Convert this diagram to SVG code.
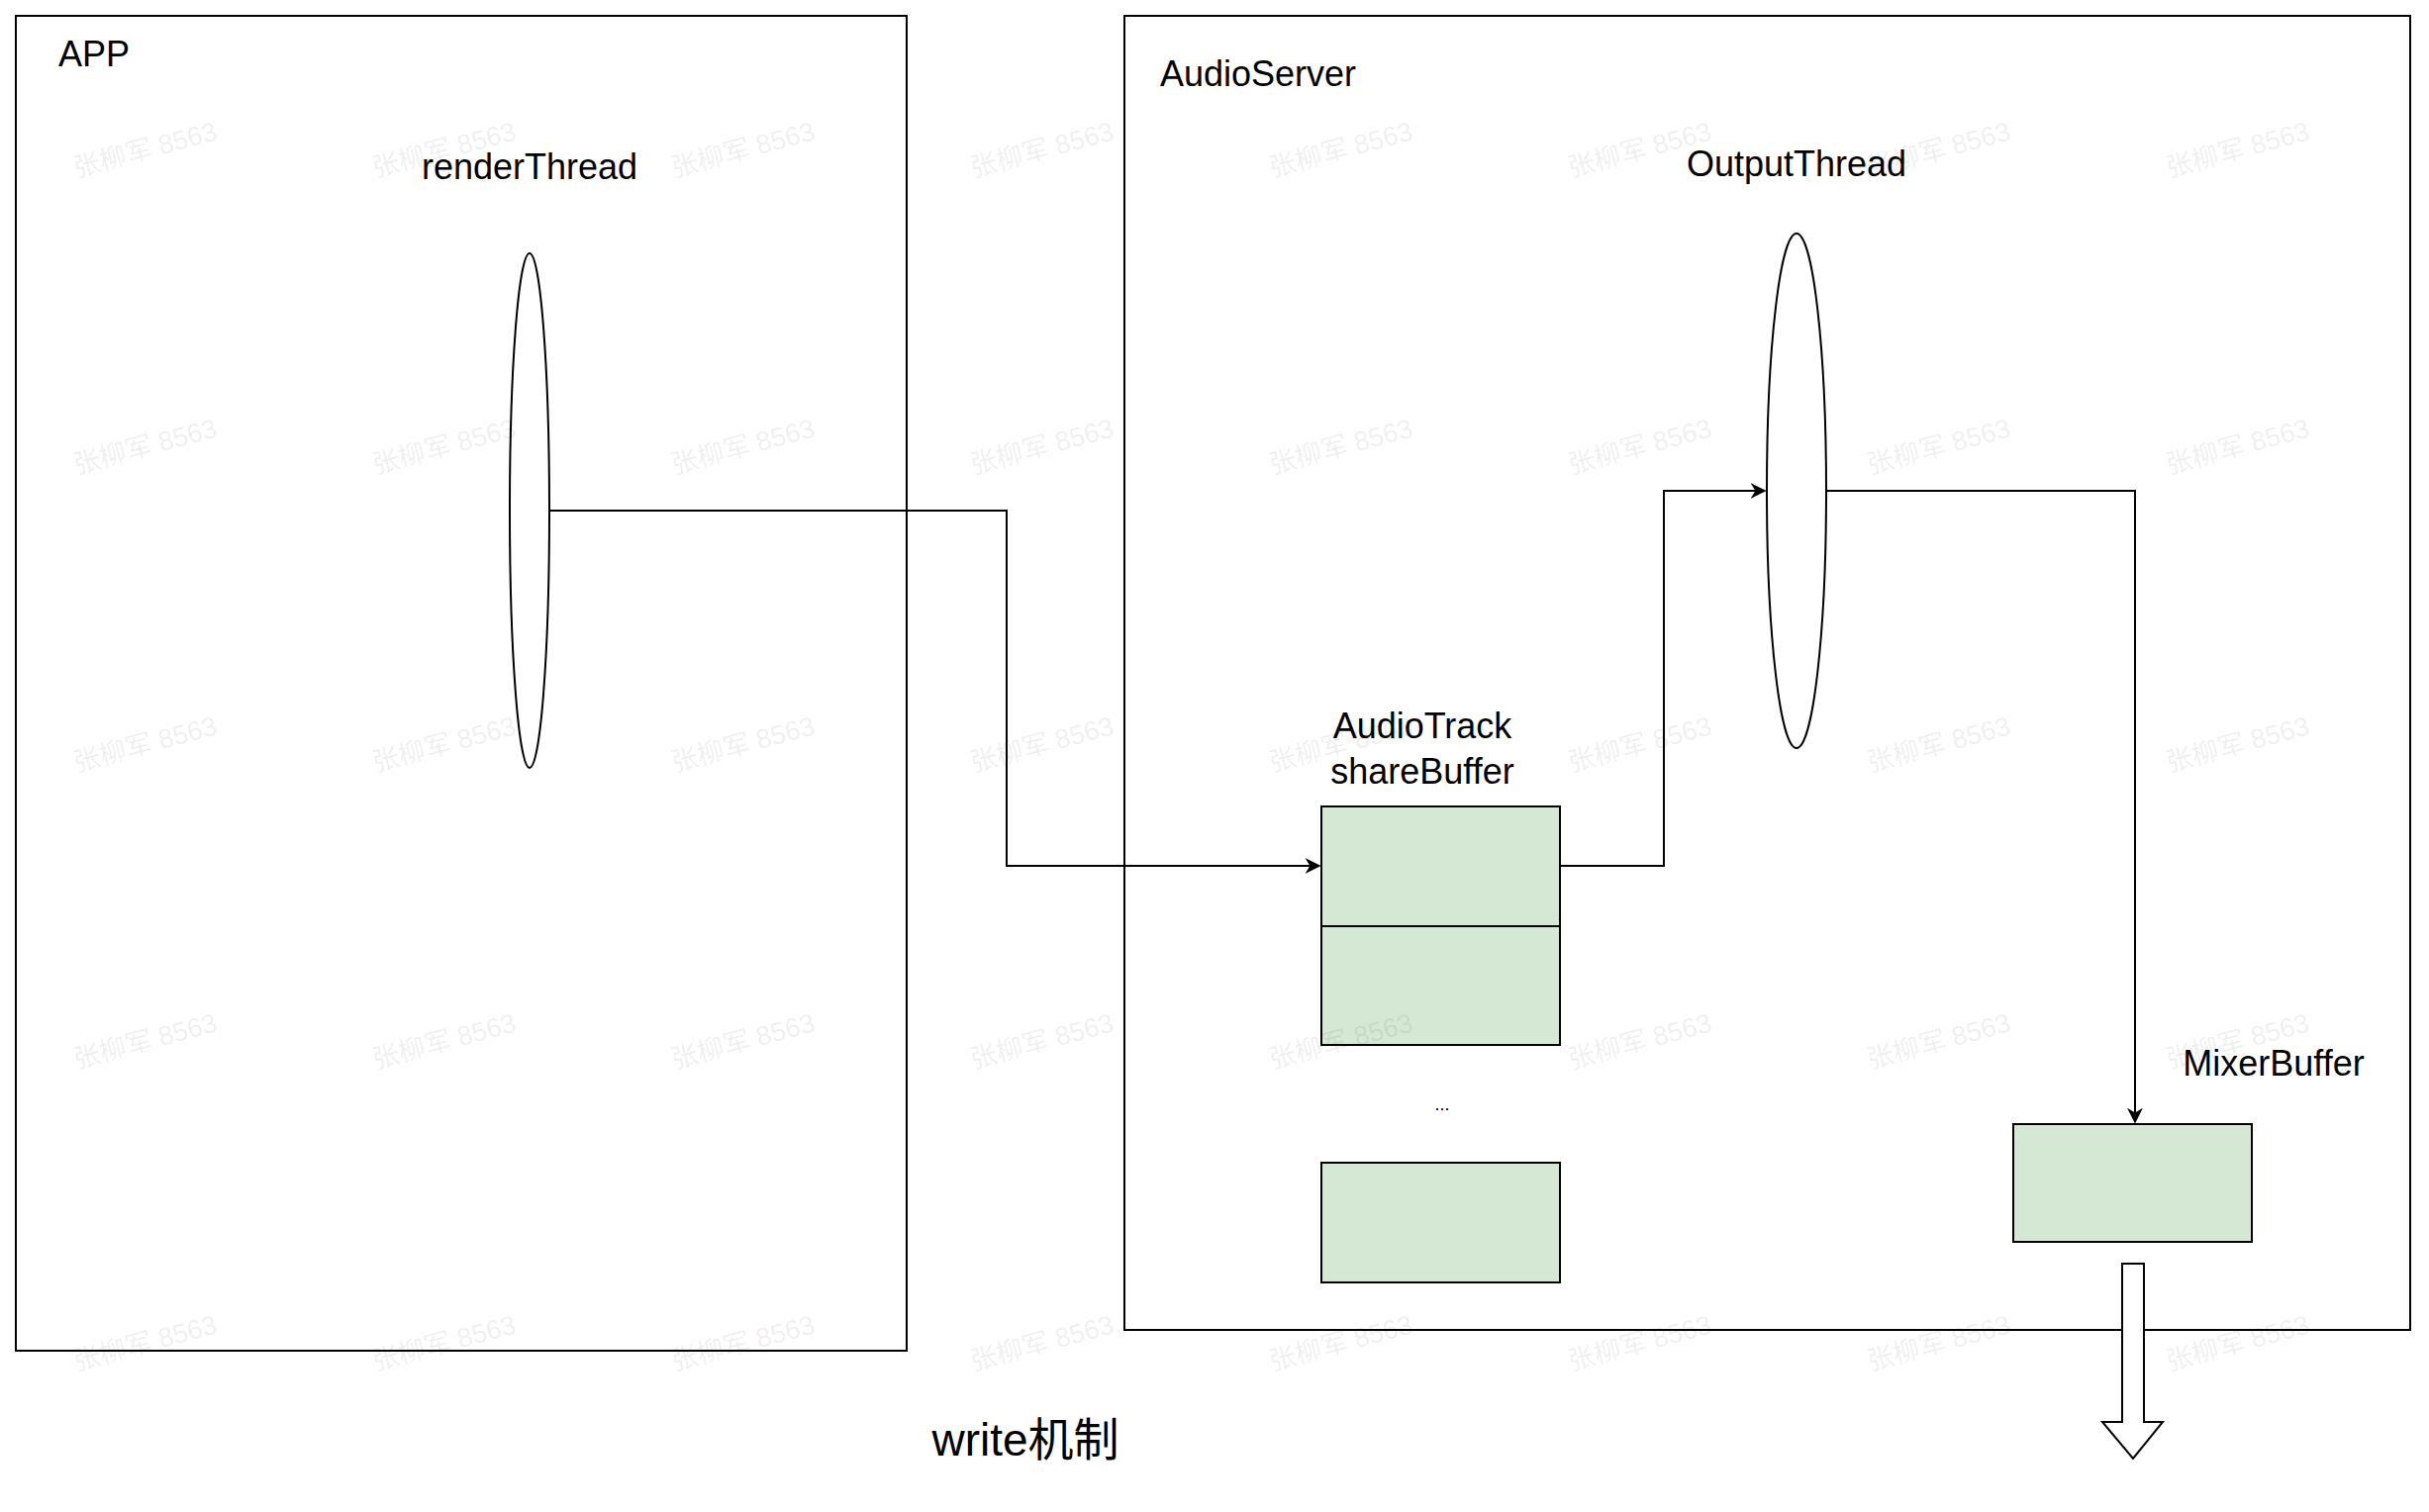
<svg xmlns="http://www.w3.org/2000/svg" width="2454" height="1528" viewBox="0 0 2454 1528">
<style>
.t{font-family:"Liberation Sans","Noto Sans CJK SC",sans-serif;font-size:36px;fill:#000}
.wm{font-family:"Liberation Sans","Noto Sans CJK SC",sans-serif;font-size:27px;fill:#000;fill-opacity:0.08}
.b{fill:#d5e8d4;stroke:#000;stroke-width:2}
.c{fill:none;stroke:#000;stroke-width:2}
</style>
<defs>
<marker id="ah" viewBox="0 0 10 10" refX="9" refY="5" markerWidth="16" markerHeight="16" orient="auto" markerUnits="userSpaceOnUse"><path d="M0,0 L10,5 L0,10 L3,5 z" fill="#000"/></marker>
</defs>
<rect width="2454" height="1528" fill="#fff"/>
<g id="app"><rect x="16" y="16" width="900" height="1349" class="c"/><text x="59" y="67" class="t">APP</text></g>
<g id="audioserver"><rect x="1136" y="16" width="1299" height="1328" class="c"/><text x="1172" y="87" class="t">AudioServer</text></g>
<g id="renderThread"><ellipse cx="535" cy="516" rx="20" ry="260" fill="#fff" stroke="#000" stroke-width="2"/><text x="535" y="181" class="t" text-anchor="middle">renderThread</text></g>
<g id="outputThread"><ellipse cx="1815" cy="496" rx="30" ry="260" fill="#fff" stroke="#000" stroke-width="2"/><text x="1815" y="178" class="t" text-anchor="middle">OutputThread</text></g>
<g id="shareBuffer">
<text x="1437" y="746" class="t" text-anchor="middle">AudioTrack</text>
<text x="1437" y="792" class="t" text-anchor="middle">shareBuffer</text>
<rect x="1335" y="815" width="241" height="121" class="b"/>
<rect x="1335" y="936" width="241" height="120" class="b"/>
<text x="1457" y="1122" font-family="Liberation Sans,sans-serif" font-size="18" text-anchor="middle">...</text>
<rect x="1335" y="1175" width="241" height="121" class="b"/>
</g>
<g id="mixerBuffer"><rect x="2034" y="1136" width="241" height="119" class="b"/><text x="2297" y="1087" class="t" text-anchor="middle">MixerBuffer</text></g>
<g id="connectors">
<polyline points="556,516 1017,516 1017,875 1333,875" class="c" marker-end="url(#ah)"/>
<polyline points="1576,875 1681,875 1681,496 1783,496" class="c" marker-end="url(#ah)"/>
<polyline points="1846,496 2157,496 2157,1134" class="c" marker-end="url(#ah)"/>
<path d="M2144,1277 H2166 V1437 H2185 L2155,1474 L2124,1437 H2144 Z" fill="#fff" stroke="#000" stroke-width="2"/>
</g>
<text x="1036" y="1471" font-family="Liberation Sans,Noto Sans CJK SC,sans-serif" font-size="46" text-anchor="middle">write机制</text>
<g id="watermarks">
<text class="wm" transform="translate(149,160) rotate(-15)" text-anchor="middle">张柳军 8563</text>
<text class="wm" transform="translate(451,160) rotate(-15)" text-anchor="middle">张柳军 8563</text>
<text class="wm" transform="translate(753,160) rotate(-15)" text-anchor="middle">张柳军 8563</text>
<text class="wm" transform="translate(1055,160) rotate(-15)" text-anchor="middle">张柳军 8563</text>
<text class="wm" transform="translate(1357,160) rotate(-15)" text-anchor="middle">张柳军 8563</text>
<text class="wm" transform="translate(1659,160) rotate(-15)" text-anchor="middle">张柳军 8563</text>
<text class="wm" transform="translate(1961,160) rotate(-15)" text-anchor="middle">张柳军 8563</text>
<text class="wm" transform="translate(2263,160) rotate(-15)" text-anchor="middle">张柳军 8563</text>
<text class="wm" transform="translate(149,460) rotate(-15)" text-anchor="middle">张柳军 8563</text>
<text class="wm" transform="translate(451,460) rotate(-15)" text-anchor="middle">张柳军 8563</text>
<text class="wm" transform="translate(753,460) rotate(-15)" text-anchor="middle">张柳军 8563</text>
<text class="wm" transform="translate(1055,460) rotate(-15)" text-anchor="middle">张柳军 8563</text>
<text class="wm" transform="translate(1357,460) rotate(-15)" text-anchor="middle">张柳军 8563</text>
<text class="wm" transform="translate(1659,460) rotate(-15)" text-anchor="middle">张柳军 8563</text>
<text class="wm" transform="translate(1961,460) rotate(-15)" text-anchor="middle">张柳军 8563</text>
<text class="wm" transform="translate(2263,460) rotate(-15)" text-anchor="middle">张柳军 8563</text>
<text class="wm" transform="translate(149,761) rotate(-15)" text-anchor="middle">张柳军 8563</text>
<text class="wm" transform="translate(451,761) rotate(-15)" text-anchor="middle">张柳军 8563</text>
<text class="wm" transform="translate(753,761) rotate(-15)" text-anchor="middle">张柳军 8563</text>
<text class="wm" transform="translate(1055,761) rotate(-15)" text-anchor="middle">张柳军 8563</text>
<text class="wm" transform="translate(1357,761) rotate(-15)" text-anchor="middle">张柳军 8563</text>
<text class="wm" transform="translate(1659,761) rotate(-15)" text-anchor="middle">张柳军 8563</text>
<text class="wm" transform="translate(1961,761) rotate(-15)" text-anchor="middle">张柳军 8563</text>
<text class="wm" transform="translate(2263,761) rotate(-15)" text-anchor="middle">张柳军 8563</text>
<text class="wm" transform="translate(149,1061) rotate(-15)" text-anchor="middle">张柳军 8563</text>
<text class="wm" transform="translate(451,1061) rotate(-15)" text-anchor="middle">张柳军 8563</text>
<text class="wm" transform="translate(753,1061) rotate(-15)" text-anchor="middle">张柳军 8563</text>
<text class="wm" transform="translate(1055,1061) rotate(-15)" text-anchor="middle">张柳军 8563</text>
<text class="wm" transform="translate(1357,1061) rotate(-15)" text-anchor="middle">张柳军 8563</text>
<text class="wm" transform="translate(1659,1061) rotate(-15)" text-anchor="middle">张柳军 8563</text>
<text class="wm" transform="translate(1961,1061) rotate(-15)" text-anchor="middle">张柳军 8563</text>
<text class="wm" transform="translate(2263,1061) rotate(-15)" text-anchor="middle">张柳军 8563</text>
<text class="wm" transform="translate(149,1366) rotate(-15)" text-anchor="middle">张柳军 8563</text>
<text class="wm" transform="translate(451,1366) rotate(-15)" text-anchor="middle">张柳军 8563</text>
<text class="wm" transform="translate(753,1366) rotate(-15)" text-anchor="middle">张柳军 8563</text>
<text class="wm" transform="translate(1055,1366) rotate(-15)" text-anchor="middle">张柳军 8563</text>
<text class="wm" transform="translate(1357,1366) rotate(-15)" text-anchor="middle">张柳军 8563</text>
<text class="wm" transform="translate(1659,1366) rotate(-15)" text-anchor="middle">张柳军 8563</text>
<text class="wm" transform="translate(1961,1366) rotate(-15)" text-anchor="middle">张柳军 8563</text>
<text class="wm" transform="translate(2263,1366) rotate(-15)" text-anchor="middle">张柳军 8563</text>
</g>
</svg>
